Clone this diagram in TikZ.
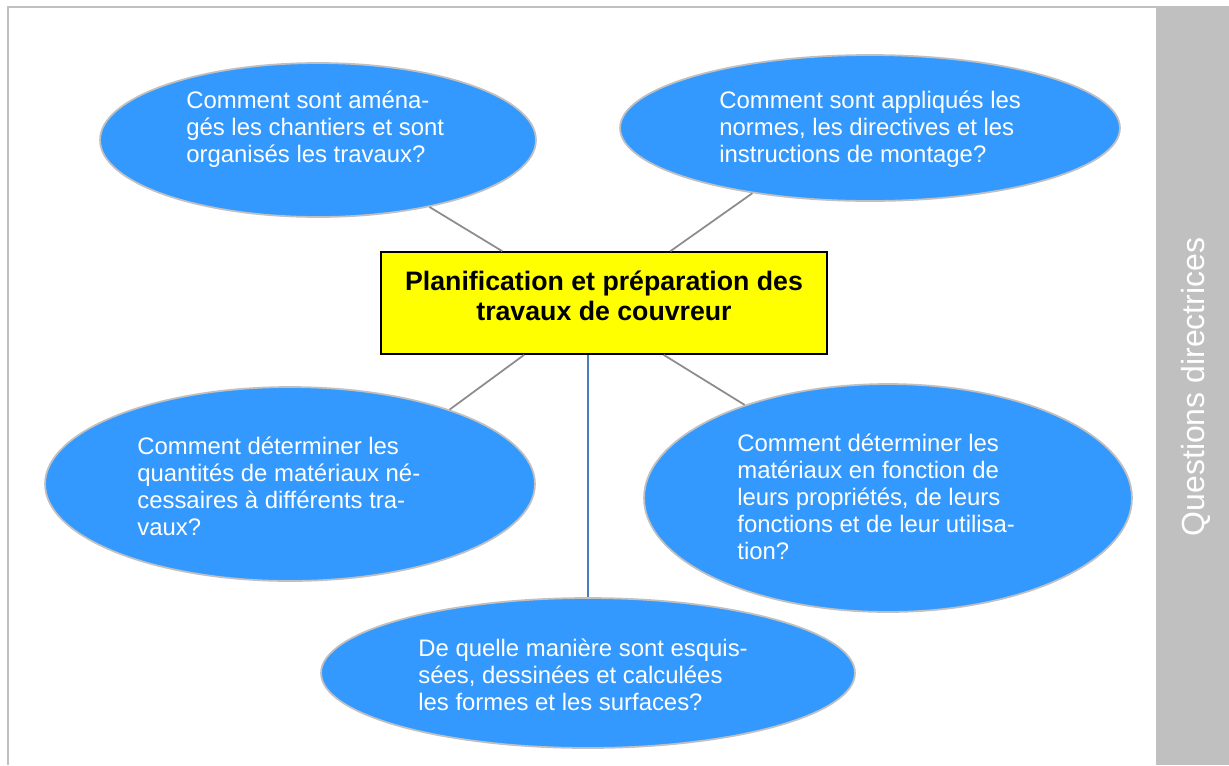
\documentclass[tikz,border=0pt]{standalone}
\usepackage{fontspec}
\setmainfont{Liberation Sans}
\usetikzlibrary{shapes.geometric}
\definecolor{bubbleblue}{RGB}{51,153,255}
\definecolor{rimgray}{RGB}{192,192,192}
\definecolor{linkgray}{RGB}{140,140,140}
\definecolor{linkblue}{RGB}{74,126,187}
\definecolor{titleyellow}{RGB}{255,255,0}

\begin{document}
\begin{tikzpicture}[x=0.02cm,y=-0.02cm,
        bubble/.style={ellipse,fill=bubbleblue,draw=rimgray,line width=1pt,inner sep=0pt},
        qtext/.style={anchor=west,align=left,inner sep=0pt,text=white,
          font=\fontsize{13.6}{15.4}\selectfont},
        titlebox/.style={rectangle,fill=titleyellow,draw=black,line width=1pt,align=center,
          minimum width=8.92cm,minimum height=2.04cm,text depth=0.3cm,
          font=\bfseries\fontsize{15.2}{17}\selectfont},
        link/.style={draw=linkgray,line width=1pt}]

  \useasboundingbox (0,0) rectangle (1229,765);

  % frame and side bar
  \fill[rimgray] (1156,7) rectangle (1229,765);
  \draw[rimgray,line width=1.2pt] (8,765) -- (8,7) -- (1229,7);
  \node[rotate=90,text=white,font=\fontsize{18.2}{20}\selectfont] (side) at (1196,387)
    {Questions directrices};

  \node[titlebox] (title) at (604,303) {Planification et préparation des\\travaux de couvreur};

  \node[bubble,minimum width=8.72cm,minimum height=3.08cm] (q1) at (318,140) {};
  \node[bubble,minimum width=10cm,minimum height=2.92cm] (q2) at (870,128) {};
  \node[bubble,minimum width=9.8cm,minimum height=3.88cm] (q3) at (290,484) {};
  \node[bubble,minimum width=9.76cm,minimum height=4.56cm] (q4) at (888,498) {};
  \node[bubble,minimum width=10.68cm,minimum height=3cm] (q5) at (588,673) {};

  \node[qtext] (t1) at (186,129) {Comment sont aména-\\gés les chantiers et sont\\organisés les travaux?};
  \node[qtext] (t2) at (719,129) {Comment sont appliqués les\\normes, les directives et les\\instructions de montage?};
  \node[qtext] (t3) at (137,486) {Comment déterminer les\\quantités de matériaux né-\\cessaires à différents tra-\\vaux?};
  \node[qtext] (t4) at (737,497) {Comment déterminer les\\matériaux en fonction de\\leurs propriétés, de leurs\\fonctions et de leur utilisa-\\tion?};
  \node[qtext] (t5) at (418,675) {De quelle manière sont esquis-\\sées, dessinées et calculées\\les formes et les surfaces?};

  \path (q1.-31) edge [link] (title.153)
        (q2.209) edge [link] (title.38)
        (q3.25) edge [link] (title.213)
        (q4.147) edge [link] (title.-41);
  \draw[linkblue,line width=1pt] (title.south -| q5.north) -- (q5.north);

\end{tikzpicture}
\end{document}
